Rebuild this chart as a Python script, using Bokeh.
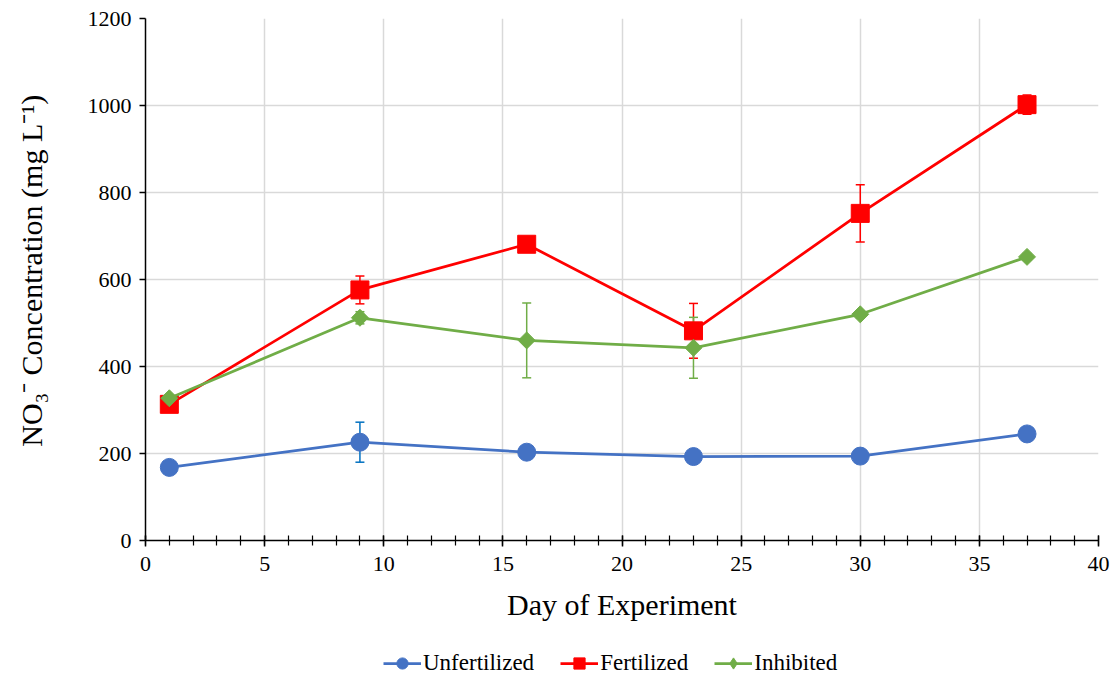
import math
from bokeh.plotting import figure
from bokeh.layouts import column
from bokeh.models import (ColumnDataSource, Whisker, TeeHead, Legend, LegendItem,
                          SingleIntervalTicker, Range1d)
from bokeh.embed import file_html
from bokeh.resources import INLINE

# NO3- concentration over the course of the experiment
days = [1, 9, 16, 23, 30, 37]
unfertilized = [168, 226, 203, 193, 194, 245]
unfertilized_err = [6, 46, 8, 6, 15, 8]
fertilized = [313, 576, 681, 482, 752, 1002]
fertilized_err = [10, 32, 10, 63, 66, 22]
inhibited = [327, 512, 460, 443, 520, 652]
inhibited_err = [6, 14, 86, 70, 8, 8]

series = [
    ("Unfertilized", unfertilized, unfertilized_err, "#4472C4", "#0070C0", "circle"),
    ("Fertilized", fertilized, fertilized_err, "#FF0000", "#FF0000", "square"),
    ("Inhibited", inhibited, inhibited_err, "#70AD47", "#70AD47", "diamond"),
]

FONT = "Liberation Serif"

p = figure(width=1114, height=637, output_backend="svg", toolbar_location=None,
           x_range=Range1d(0, 40), y_range=Range1d(0, 1200),
           min_border_left=145, min_border_right=16, min_border_top=18,
           min_border_bottom=97)
p.outline_line_color = None
p.background_fill_color = "white"
p.border_fill_color = "white"

p.xaxis.ticker = SingleIntervalTicker(interval=5, num_minor_ticks=5)
p.yaxis.ticker = SingleIntervalTicker(interval=200, num_minor_ticks=0)

for ax in (p.xaxis[0], p.yaxis[0]):
    ax.axis_line_color = "black"
    ax.axis_line_width = 1.5
    ax.major_tick_line_color = "black"
    ax.major_tick_line_width = 1.5
    ax.minor_tick_line_color = "black"
    ax.minor_tick_line_width = 1.2
    ax.major_label_text_font = FONT
    ax.major_label_text_font_size = "22px"
    ax.major_label_text_color = "black"
    ax.axis_label_text_font = FONT
    ax.axis_label_text_font_size = "30px"
    ax.axis_label_text_font_style = "normal"
    ax.axis_label_text_color = "black"

p.xaxis.major_tick_in = 5
p.xaxis.major_tick_out = 6
p.xaxis.minor_tick_in = 5
p.xaxis.minor_tick_out = 5
p.xaxis.major_label_standoff = 10
p.xaxis.axis_label = "Day of Experiment"
p.xaxis.axis_label_standoff = 14

p.yaxis.major_tick_in = 0
p.yaxis.major_tick_out = 6
p.yaxis.minor_tick_in = 0
p.yaxis.minor_tick_out = 0
p.yaxis.major_label_standoff = 8
# leading spaces nudge the rotated title a little toward the top
p.yaxis.axis_label = "\u2002\u200aNO\u2083\u207b Concentration (mg L\u207b\u00b9)"
p.yaxis.axis_label_standoff = 37

p.xgrid.grid_line_color = "#D9D9D9"
p.xgrid.grid_line_width = 1.5
p.ygrid.grid_line_color = "#D9D9D9"
p.ygrid.grid_line_width = 1.5

for name, vals, errs, color, err_color, marker in series:
    src = ColumnDataSource(dict(
        x=days, y=vals,
        upper=[v + e for v, e in zip(vals, errs)],
        lower=[v - e for v, e in zip(vals, errs)],
    ))
    p.line("x", "y", source=src, line_color=color, line_width=2.75)
    w = Whisker(source=src, base="x", upper="upper", lower="lower",
                line_color=err_color, line_width=1.5,
                upper_head=TeeHead(size=9, line_color=err_color, line_width=1.5),
                lower_head=TeeHead(size=9, line_color=err_color, line_width=1.5))
    p.add_layout(w)
    if marker == "circle":
        p.scatter("x", "y", source=src, marker="circle", size=18,
                  fill_color=color, line_color=color)
    elif marker == "square":
        p.scatter("x", "y", source=src, marker="square", size=18,
                  fill_color=color, line_color=color)
    else:
        p.scatter("x", "y", source=src, marker="square", size=12,
                  angle=math.pi / 4, fill_color=color, line_color=color)

# Legend strip underneath the chart (its frame lines up with the chart's frame)
leg = figure(width=1114, height=40, output_backend="svg", toolbar_location=None,
             x_range=Range1d(0, 1), y_range=Range1d(0, 1),
             x_axis_location=None, y_axis_location=None,
             min_border_left=145, min_border_right=16, min_border_top=0,
             min_border_bottom=0)
leg.outline_line_color = None
leg.grid.visible = False
leg.border_fill_color = "white"

items = []
for name, vals, errs, color, err_color, marker in series:
    ln = leg.line(x=[-5, -4], y=[-5, -4], line_color=color, line_width=2.75)
    mk = leg.scatter(x=[-5], y=[-5], marker=marker, fill_color=color, line_color=color)
    items.append(LegendItem(label=name, renderers=[ln, mk]))

legend = Legend(items=items, orientation="horizontal", location=(238, 0),
                label_text_font=FONT, label_text_font_size="23px",
                label_text_color="black", glyph_width=38, glyph_height=28,
                label_standoff=2, spacing=26, padding=0, margin=0,
                border_line_color=None, background_fill_alpha=0)
leg.add_layout(legend, "center")

open("out.html", "w").write(file_html(column(p, leg, spacing=0), INLINE))
